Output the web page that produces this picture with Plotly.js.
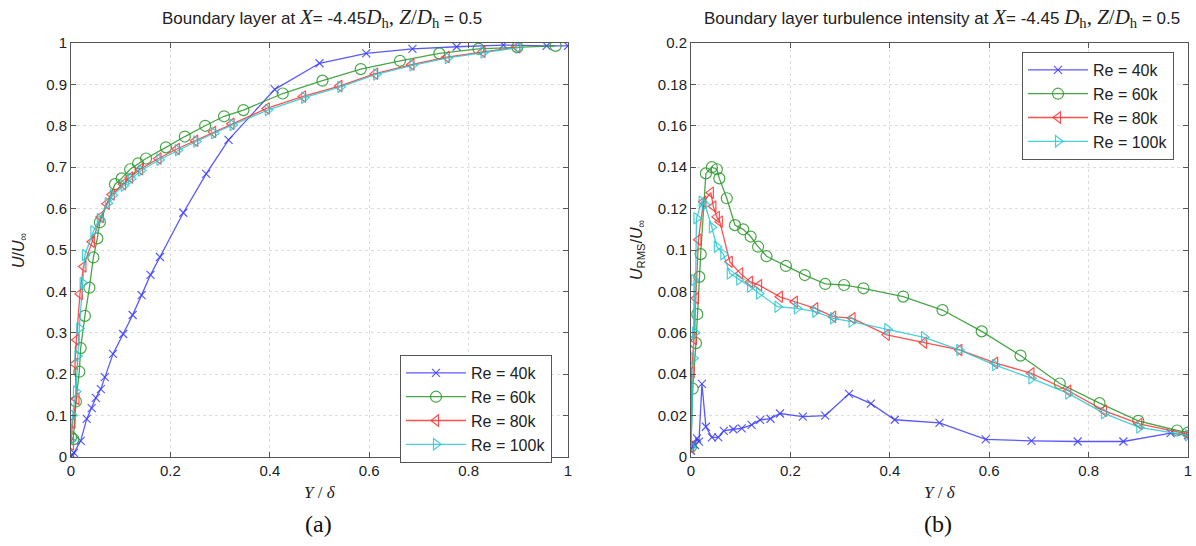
<!DOCTYPE html>
<html><head><meta charset="utf-8">
<script src="https://cdn.plot.ly/plotly-3.0.1.min.js"></script>
<style>html,body{margin:0;padding:0;background:#fff}#c{width:1196px;height:546px}</style>
</head><body><div id="c"></div>
<script>
// ---- data: panel (a) mean velocity U/U_inf vs Y/delta ----
const seriesNames = ["Re = 40k", "Re = 60k", "Re = 80k", "Re = 100k"];

const a40x = [0, 0.002, 0.006, 0.0195, 0.0316, 0.0416, 0.050, 0.060, 0.068, 0.0845, 0.105, 0.124, 0.142, 0.160, 0.179, 0.226, 0.272, 0.317, 0.41, 0.50, 0.594, 0.687, 0.776, 0.87, 0.957, 1.0];
const a40y = [0, 0.005, 0.01, 0.039, 0.092, 0.118, 0.143, 0.164, 0.193, 0.249, 0.297, 0.343, 0.391, 0.440, 0.483, 0.59, 0.684, 0.766, 0.888, 0.951, 0.975, 0.986, 0.991, 0.995, 0.993, 0.993];

const a60x = [0, 0.0047, 0.010, 0.0167, 0.0195, 0.028, 0.037, 0.045, 0.053, 0.058, 0.0885, 0.102, 0.119, 0.135, 0.151, 0.191, 0.229, 0.270, 0.308, 0.347, 0.426, 0.506, 0.583, 0.662, 0.741, 0.82, 0.898, 0.975];
const a60y = [0.048, 0.043, 0.134, 0.206, 0.263, 0.341, 0.409, 0.482, 0.528, 0.567, 0.659, 0.673, 0.695, 0.709, 0.721, 0.748, 0.774, 0.800, 0.823, 0.838, 0.878, 0.909, 0.937, 0.957, 0.975, 0.986, 0.99, 0.993];

const a80x = [0, 0.003, 0.011, 0.008, 0.011, 0.018, 0.025, 0.042, 0.06, 0.072, 0.082, 0.105, 0.119, 0.139, 0.176, 0.213, 0.25, 0.286, 0.323, 0.394, 0.467, 0.54, 0.612, 0.685, 0.756, 0.828, 0.898];
const a80y = [0.03, 0.083, 0.14, 0.225, 0.283, 0.394, 0.46, 0.52, 0.58, 0.612, 0.634, 0.659, 0.675, 0.695, 0.721, 0.744, 0.764, 0.785, 0.805, 0.842, 0.871, 0.896, 0.926, 0.948, 0.966, 0.979, 0.99];

const a100x = [0, 0.003, 0.010, 0.013, 0.0167, 0.0235, 0.028, 0.045, 0.058, 0.074, 0.084, 0.106, 0.121, 0.141, 0.178, 0.215, 0.252, 0.288, 0.325, 0.396, 0.469, 0.542, 0.614, 0.687, 0.758, 0.83, 0.90];
const a100y = [0.04, 0.101, 0.158, 0.244, 0.311, 0.42, 0.488, 0.545, 0.575, 0.613, 0.632, 0.655, 0.672, 0.692, 0.718, 0.741, 0.762, 0.782, 0.802, 0.838, 0.868, 0.894, 0.924, 0.946, 0.964, 0.977, 0.989];

// ---- data: panel (b) turbulence intensity U_RMS/U_inf vs Y/delta ----
const b40x = [0, 0.004, 0.008, 0.012, 0.016, 0.022, 0.03, 0.042, 0.055, 0.066, 0.085, 0.102, 0.122, 0.139, 0.16, 0.179, 0.225, 0.27, 0.318, 0.362, 0.41, 0.50, 0.593, 0.685, 0.778, 0.87, 0.965, 1.0];
const b40y = [0.003, 0.0066, 0.0058, 0.009, 0.0074, 0.0353, 0.0146, 0.0095, 0.0095, 0.0126, 0.0134, 0.0138, 0.0155, 0.0179, 0.0185, 0.021, 0.0195, 0.02, 0.0305, 0.0258, 0.018, 0.0165, 0.0085, 0.0078, 0.0075, 0.0075, 0.0115, 0.0105];

const b60x = [0.0, 0.0034, 0.010, 0.0127, 0.0167, 0.0195, 0.030, 0.042, 0.052, 0.057, 0.072, 0.0885, 0.105, 0.12, 0.135, 0.152, 0.191, 0.229, 0.27, 0.308, 0.347, 0.427, 0.506, 0.585, 0.663, 0.742, 0.822, 0.90, 0.978, 1.0];
const b60y = [0.005, 0.033, 0.055, 0.069, 0.087, 0.098, 0.137, 0.140, 0.139, 0.1346, 0.125, 0.112, 0.110, 0.1065, 0.1016, 0.097, 0.0923, 0.0879, 0.0836, 0.0831, 0.0815, 0.0775, 0.071, 0.0607, 0.0490, 0.0355, 0.0260, 0.0175, 0.0128, 0.0118];

const b80x = [0, 0.0014, 0.006, 0.010, 0.015, 0.025, 0.040, 0.045, 0.052, 0.058, 0.078, 0.099, 0.119, 0.137, 0.179, 0.209, 0.25, 0.286, 0.325, 0.394, 0.469, 0.54, 0.612, 0.685, 0.759, 0.831, 0.902, 1.0];
const b80y = [0.005, 0.041, 0.057, 0.0767, 0.105, 0.1233, 0.1277, 0.121, 0.116, 0.1137, 0.0943, 0.0887, 0.0847, 0.083, 0.0774, 0.075, 0.0718, 0.0678, 0.067, 0.059, 0.0552, 0.0517, 0.0455, 0.0404, 0.032, 0.0224, 0.016, 0.011];

const b100x = [0, 0.005, 0.006, 0.008, 0.011, 0.0215, 0.028, 0.042, 0.052, 0.065, 0.078, 0.097, 0.119, 0.137, 0.174, 0.213, 0.25, 0.286, 0.323, 0.395, 0.469, 0.54, 0.612, 0.685, 0.759, 0.831, 0.902, 1.0];
const b100y = [0.005, 0.0477, 0.0855, 0.06, 0.1153, 0.1233, 0.122, 0.111, 0.1016, 0.098, 0.0887, 0.0858, 0.0823, 0.079, 0.0726, 0.0718, 0.0702, 0.067, 0.0654, 0.0617, 0.0578, 0.0517, 0.0444, 0.038, 0.0307, 0.0211, 0.0143, 0.0105];

const xTicks = [0, 0.2, 0.4, 0.6, 0.8, 1];
const xTickText = ["0", "0.2", "0.4", "0.6", "0.8", "1"];
const yTicksA = [0, 0.1, 0.2, 0.3, 0.4, 0.5, 0.6, 0.7, 0.8, 0.9, 1];
const yTickTextA = ["0", "0.1", "0.2", "0.3", "0.4", "0.5", "0.6", "0.7", "0.8", "0.9", "1"];
const yTicksB = [0, 0.02, 0.04, 0.06, 0.08, 0.1, 0.12, 0.14, 0.16, 0.18, 0.2];
const yTickTextB = ["0", "0.02", "0.04", "0.06", "0.08", "0.1", "0.12", "0.14", "0.16", "0.18", "0.2"];

// ---- styles ----
const colors = ["rgba(60,60,255,0.85)", "rgba(40,150,40,0.85)", "rgba(255,50,50,0.85)", "rgba(40,200,210,0.85)"];
const symbols = ["x-thin-open", "circle-open", "triangle-left-open", "triangle-right-open"];
const msize = [8, 11, 10, 10];

function tr(x, y, i, xa, ya, leg) {
  return {
    x: x, y: y, name: seriesNames[i], type: "scatter", mode: "lines+markers",
    xaxis: xa, yaxis: ya, legend: leg,
    line: {color: colors[i], width: 1.3},
    marker: {symbol: symbols[i], size: msize[i], color: colors[i], line: {color: colors[i], width: 1.2}}
  };
}

const data = [
  tr(a40x, a40y, 0, "x", "y", "legend"),
  tr(a60x, a60y, 1, "x", "y", "legend"),
  tr(a80x, a80y, 2, "x", "y", "legend"),
  tr(a100x, a100y, 3, "x", "y", "legend"),
  tr(b40x, b40y, 0, "x2", "y2", "legend2"),
  tr(b60x, b60y, 1, "x2", "y2", "legend2"),
  tr(b80x, b80y, 2, "x2", "y2", "legend2"),
  tr(b100x, b100y, 3, "x2", "y2", "legend2")
];

const W = 1196, H = 546;
const px = v => v / W, py = v => 1 - v / H;

const axBase = {
  showline: true, linecolor: "#555", linewidth: 1, mirror: "ticks",
  ticks: "inside", ticklen: 5, tickcolor: "#555",
  showgrid: true, gridcolor: "#dcdcdc", griddash: "dot", gridwidth: 1,
  zeroline: false, tickfont: {family: "Liberation Sans, Arial", size: 15, color: "#222"},
  fixedrange: true
};

const SER = 'font-family:Liberation Serif;font-size:21px';

const layout = {
  width: W, height: H, margin: {l: 0, r: 0, t: 0, b: 0},
  paper_bgcolor: "#fff", plot_bgcolor: "#fff", showlegend: true,
  xaxis: Object.assign({}, axBase, {domain: [px(71), px(568)], range: [0, 1], tickvals: xTicks, ticktext: xTickText, anchor: "y"}),
  yaxis: Object.assign({}, axBase, {domain: [py(457), py(43)], range: [0, 1], tickvals: yTicksA, ticktext: yTickTextA, anchor: "x"}),
  xaxis2: Object.assign({}, axBase, {domain: [px(691), px(1188)], range: [0, 1], tickvals: xTicks, ticktext: xTickText, anchor: "y2"}),
  yaxis2: Object.assign({}, axBase, {domain: [py(457), py(43)], range: [0, 0.2], tickvals: yTicksB, ticktext: yTickTextB, anchor: "x2"}),
  legend: {x: px(400), y: py(355), xanchor: "left", yanchor: "top", bgcolor: "#fff", bordercolor: "#555", borderwidth: 1,
           font: {family: "Liberation Sans, Arial", size: 16, color: "#222"}, tracegroupgap: 0, itemwidth: 60},
  legend2: {x: px(1022), y: py(52), xanchor: "left", yanchor: "top", bgcolor: "#fff", bordercolor: "#555", borderwidth: 1,
           font: {family: "Liberation Sans, Arial", size: 16, color: "#222"}, tracegroupgap: 0, itemwidth: 60},
  annotations: [
    {text: 'Boundary layer at <span style="' + SER + '"><i>X</i></span>= -4.45<span style="' + SER + '"><i>D</i><sub>h</sub>, <i>Z</i>/<i>D</i><sub>h</sub></span> = 0.5',
     x: px(322), y: py(18), xref: "paper", yref: "paper", showarrow: false, xanchor: "center", yanchor: "middle",
     font: {family: "Liberation Sans, Arial", size: 17, color: "#222"}},
    {text: 'Boundary layer turbulence intensity at <span style="' + SER + '"><i>X</i></span>= -4.45 <span style="' + SER + '"><i>D</i><sub>h</sub>, <i>Z</i>/<i>D</i><sub>h</sub></span> = 0.5',
     x: px(942), y: py(18), xref: "paper", yref: "paper", showarrow: false, xanchor: "center", yanchor: "middle",
     font: {family: "Liberation Sans, Arial", size: 17, color: "#222"}},
    {text: '<i>U</i>/<i>U</i><sub>∞</sub>', x: px(20), y: py(250), xref: "paper", yref: "paper", showarrow: false,
     textangle: -90, xanchor: "center", yanchor: "middle", font: {family: "Liberation Sans, Arial", size: 16, color: "#222"}},
    {text: '<i>U</i><sub>RMS</sub>/<i>U</i><sub>∞</sub>', x: px(638), y: py(250), xref: "paper", yref: "paper", showarrow: false,
     textangle: -90, xanchor: "center", yanchor: "middle", font: {family: "Liberation Sans, Arial", size: 16, color: "#222"}},
    {text: '<i>Y</i> / <i>δ</i>', x: px(320), y: py(492), xref: "paper", yref: "paper", showarrow: false,
     xanchor: "center", yanchor: "middle", font: {family: "Liberation Serif, Times New Roman", size: 17, color: "#222"}},
    {text: '<i>Y</i> / <i>δ</i>', x: px(940), y: py(492), xref: "paper", yref: "paper", showarrow: false,
     xanchor: "center", yanchor: "middle", font: {family: "Liberation Serif, Times New Roman", size: 17, color: "#222"}},
    {text: '(a)', x: px(318), y: py(524), xref: "paper", yref: "paper", showarrow: false,
     xanchor: "center", yanchor: "middle", font: {family: "Liberation Serif, Times New Roman", size: 24, color: "#111"}},
    {text: '(b)', x: px(938), y: py(524), xref: "paper", yref: "paper", showarrow: false,
     xanchor: "center", yanchor: "middle", font: {family: "Liberation Serif, Times New Roman", size: 24, color: "#111"}}
  ]
};

Plotly.newPlot("c", data, layout, {displayModeBar: false, staticPlot: true});
</script></body></html>
